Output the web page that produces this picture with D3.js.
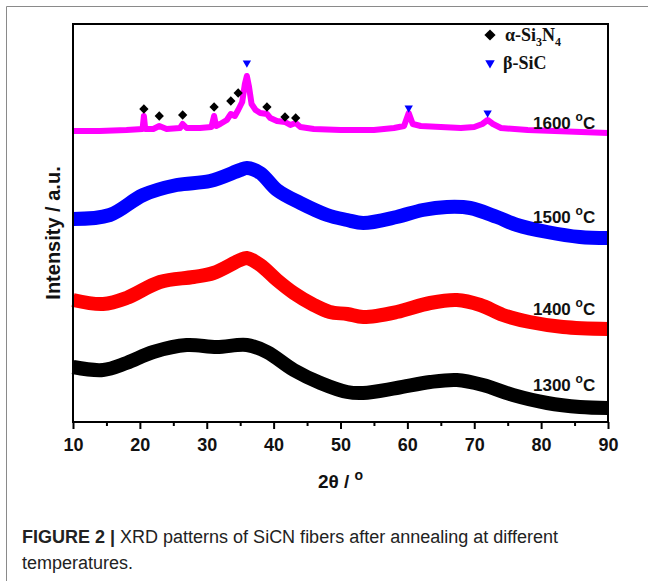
<!DOCTYPE html>
<html>
<head>
<meta charset="utf-8">
<script src="https://cdn.jsdelivr.net/npm/d3@7"></script>
<style>
  body { margin:0; background:#fff; }
  svg { display:block; }
</style>
</head>
<body>
<svg id="chart" width="648" height="581"></svg>
<script>
// 2θ (deg) and intensity (a.u., stacked offsets)
const theta1300=[10,14.5,18,22,27,31.5,36,39,43,47,51,53.4,58.4,63.4,67.4,71.3,75.8,80.9,85.8,90];
const int1300=[55,52,59,70,77,75,77,70,52,39,30,29,34,40,42,37,27,19,15,14];

const theta1400=[10,14.5,18,23,28,31,35,36,38,40.5,43,46,48.4,51,53.4,58.4,63.4,67.4,70.9,74.3,78.3,83.3,90];
const int1400=[122,118,124,140,145,149,162,164,157,142,129,117,110,108,105,110,119,122,117,107,100,95,93];

const theta1500=[10,15.5,20.5,25.5,30.5,35,36,38,40.5,44,48,51,53.4,58.4,62.3,65.9,69.4,73.4,76.4,80.9,85.8,90];
const int1500=[203,207,227,237,241,252,254,249,232,219,207,202,199,205,212,215,214,205,197,190,185,184];

const theta1600=[10,14,18,20.4,20.6,20.8,22,22.9,24,26,26.4,27,29,30.7,31.1,31.4,32,33,33.6,34.2,34.7,35.3,35.7,36,36.3,36.7,37.3,38,39,39.5,40.5,41.7,42.5,43.3,44,46,50,55,58,59.5,60.2,60.8,62,65,68,70,71.2,72,72.8,74,78,82,86,90];
const int1600=[291,291,292,293,306,293,293,296,293,294,298,294,294,295,306,296,298,302,308,306,312,320,338,346,336,318,312,309,308,304,301,300,297,299,295,293,292,292,294,296,309,298,296,295,294,295,298,302,298,294,292,291,290,289];

const seriesNames=["1300 °C","1400 °C","1500 °C","1600 °C"];
const seriesColors=["#000000","#ff0000","#0000ff","#ff00ff"];
const seriesThetas=[theta1300,theta1400,theta1500,theta1600];
const seriesInts=[int1300,int1400,int1500,int1600];
const labelInts=[37,113,205,299];

// phase markers on the 1600 °C pattern
const si3n4Theta=[20.6,22.9,26.4,31.1,33.6,34.7,39.0,41.7,43.3];
const si3n4Int=[313,306,307,315,321,329,315,305,304];
const sicTheta=[36.0,60.2,72.0];
const sicInt=[359,314,309];

const xTicks=[10,20,30,40,50,60,70,80,90];
const xMinorTicks=[15,25,35,45,55,65,75,85];

const svg=d3.select("#chart");
const plotLeft=73, plotRight=608, plotTop=24, plotBottom=422;

const x=d3.scaleLinear().domain([10,90]).range([plotLeft,plotRight]);
const y=d3.scaleLinear().domain([0,398]).range([plotBottom,plotTop]);

// outer figure frame
svg.append("line").attr("x1",6.5).attr("x2",648).attr("y1",6.5).attr("y2",6.5)
    .attr("stroke","#8a8a8a").attr("stroke-width",1);
svg.append("line").attr("x1",6.5).attr("x2",6.5).attr("y1",6.5).attr("y2",581)
    .attr("stroke","#8a8a8a").attr("stroke-width",1);

// curves: broad amorphous humps are smooth, the 1600 pattern keeps its sharp peaks
const smooth=d3.line().curve(d3.curveCatmullRom.alpha(0.5));
const sharp=d3.line();
seriesThetas.forEach((th,i)=>{
    const pts=th.map((t,k)=>[x(t),y(seriesInts[i][k])]);
    svg.append("path")
        .attr("d",i===3?sharp(pts):smooth(pts))
        .attr("fill","none")
        .attr("stroke",seriesColors[i])
        .attr("stroke-width",i===3?6:14)
        .attr("stroke-linejoin","round");
    const lab=svg.append("text")
        .attr("x",533).attr("y",y(labelInts[i])+6)
        .attr("font-family","Liberation Sans, Arial, sans-serif")
        .attr("font-weight","bold").attr("font-size",17)
        .attr("fill","#111");
    const parts=seriesNames[i].split(" ");
    lab.append("tspan").text(parts[0]+" ");
    lab.append("tspan").attr("font-size",12).attr("dy",-8).text("o");
    lab.append("tspan").attr("dy",8).text(parts[1].replace("°",""));
});

// markers
const diamond=d3.symbol().type(d3.symbolDiamond2).size(55);
si3n4Theta.forEach((t,k)=>{
    svg.append("path").attr("d",diamond())
        .attr("transform",`translate(${x(t)},${y(si3n4Int[k])})`)
        .attr("fill","#000");
});
const tri=d3.symbol().type(d3.symbolTriangle2).size(50);
sicTheta.forEach((t,k)=>{
    svg.append("path").attr("d",tri())
        .attr("transform",`translate(${x(t)},${y(sicInt[k])}) rotate(180)`)
        .attr("fill","#0000ff");
});

// legend
const legG=svg.append("g").attr("font-family","Liberation Serif, Times New Roman, serif")
    .attr("font-weight","bold").attr("font-size",18).attr("fill","#111");
legG.append("path").attr("d",d3.symbol().type(d3.symbolDiamond2).size(80)())
    .attr("transform","translate(490,35)").attr("fill","#000");
const t1=legG.append("text").attr("x",505).attr("y",41);
t1.append("tspan").text("α-Si");
t1.append("tspan").attr("font-size",12).attr("dy",5).text("3");
t1.append("tspan").attr("dy",-5).text("N");
t1.append("tspan").attr("font-size",12).attr("dy",5).text("4");
legG.append("path").attr("d",d3.symbol().type(d3.symbolTriangle2).size(65)())
    .attr("transform","translate(490,63) rotate(180)").attr("fill","#0000ff");
legG.append("text").attr("x",503).attr("y",69).text("β-SiC");

// frame
svg.append("rect").attr("x",plotLeft).attr("y",plotTop)
    .attr("width",plotRight-plotLeft).attr("height",plotBottom-plotTop)
    .attr("fill","none").attr("stroke","#000").attr("stroke-width",2);

// x axis
const xAxis=svg.append("g").attr("transform",`translate(0,${plotBottom})`)
    .call(d3.axisBottom(x).tickValues(xTicks).tickSize(7).tickPadding(9).tickFormat(d3.format("d")));
xAxis.select(".domain").remove();
xAxis.selectAll("line").attr("stroke-width",2);
xAxis.selectAll("text")
    .attr("font-family","Liberation Sans, Arial, sans-serif")
    .attr("font-weight","bold").attr("font-size",18).attr("fill","#111");
const xMinor=svg.append("g").attr("transform",`translate(0,${plotBottom})`)
    .call(d3.axisBottom(x).tickValues(xMinorTicks).tickSize(4).tickFormat(""));
xMinor.select(".domain").remove();
xMinor.selectAll("line").attr("stroke-width",2);

// axis titles
const xt=svg.append("text").attr("x",(plotLeft+plotRight)/2).attr("y",488)
    .attr("text-anchor","middle")
    .attr("font-family","Liberation Sans, Arial, sans-serif")
    .attr("font-weight","bold").attr("font-size",19).attr("fill","#111");
xt.append("tspan").text("2θ / ");
xt.append("tspan").attr("font-size",14).attr("dy",-8).text("o");
svg.append("text")
    .attr("transform",`translate(60,${(plotTop+plotBottom)/2+10}) rotate(-90)`)
    .attr("text-anchor","middle")
    .attr("font-family","Liberation Sans, Arial, sans-serif")
    .attr("font-weight","bold").attr("font-size",20).attr("fill","#111")
    .text("Intensity / a.u.");

// caption
const capG=svg.append("g").attr("font-family","Liberation Sans Narrow, Arial Narrow, sans-serif")
    .attr("font-size",18).attr("fill","#222");
const c1=capG.append("text").attr("x",22).attr("y",543);
c1.append("tspan").attr("font-weight","bold").text("FIGURE 2 | ");
c1.append("tspan").text("XRD patterns of SiCN fibers after annealing at different");
capG.append("text").attr("x",22).attr("y",569).text("temperatures.");
</script>
</body>
</html>
